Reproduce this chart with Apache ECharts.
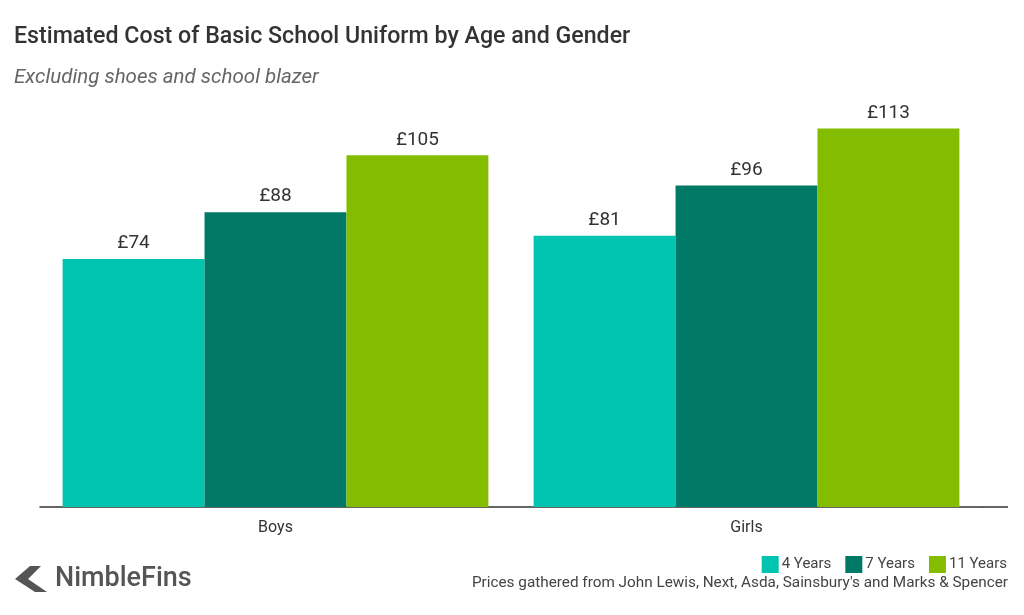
<!DOCTYPE html>
<html><head><meta charset="utf-8">
<script src="https://cdn.jsdelivr.net/npm/echarts@6/dist/echarts.min.js"></script>
<style>html,body{margin:0;padding:0;background:#fff}#c{width:1024px;height:615px}</style>
</head><body><div id="c"></div>
<script>
const categories = ['Boys', 'Girls'];
const seriesNames = ['4 Years', '7 Years', '11 Years'];
const years4 = [74, 81];
const years7 = [88, 96];
const years11 = [105, 113];
const colors = ['#00c4b0', '#007a66', '#84bd00'];

const chart = echarts.init(document.getElementById('c'));
const font = 'Roboto, "Open Sans", sans-serif';
function mk(name, data, color) {
  return {
    name, type: 'bar', data, barGap: '0%', barCategoryGap: '9.6%',
    itemStyle: { color },
    label: { show: true, position: 'top', formatter: p => '£' + p.value, color: '#333', fontSize: 19, fontFamily: font, distance: 6 }
  };
}
chart.setOption({
  animation: false,
  textStyle: { fontFamily: font },
  title: [
    { text: 'Estimated Cost of Basic School Uniform by Age and Gender', left: 9, top: 21, textStyle: { fontSize: 23.2, fontWeight: 500, color: '#333', fontFamily: font } },
    { text: 'Excluding shoes and school blazer', left: 9, top: 63, textStyle: { fontSize: 20.5, fontStyle: 'italic', fontWeight: 'normal', color: '#666', fontFamily: font } }
  ],
  legend: {
    data: seriesNames, right: 12, top: 551, itemWidth: 17, itemHeight: 17, itemGap: 14,
    icon: 'rect', textStyle: { fontSize: 15, color: '#444', fontFamily: font, padding: [0, 0, 0, -2] }
  },
  grid: { left: 40, right: 42, top: 105, height: 402, containLabel: false },
  xAxis: {
    type: 'category', data: categories,
    axisLine: { lineStyle: { color: '#333', width: 1.5 } },
    axisTick: { show: false },
    axisLabel: { color: '#333', fontSize: 16, margin: 13, fontFamily: font }
  },
  yAxis: { type: 'value', min: 0, max: 120, show: false, splitLine: { show: false } },
  series: [mk(seriesNames[0], years4, colors[0]), mk(seriesNames[1], years7, colors[1]), mk(seriesNames[2], years11, colors[2])],
  graphic: [
    { type: 'line', shape: { x1: 982, y1: 507, x2: 1008, y2: 507 }, style: { stroke: '#333', lineWidth: 1.5 } },
    { type: 'text', right: 16, top: 576, style: { text: "Prices gathered from John Lewis, Next, Asda, Sainsbury's and Marks & Spencer", fontSize: 15.3, fill: '#444', fontFamily: font } },
    { type: 'polygon', shape: { points: [[30, 566], [41, 566], [28, 579], [47, 592], [35, 592], [15, 579]] }, style: { fill: '#555' } },
    { type: 'text', left: 55, top: 566, style: { text: 'NimbleFins', fontSize: 27, fill: '#555', fontFamily: font, fontWeight: 500 } }
  ]
});
</script></body></html>
